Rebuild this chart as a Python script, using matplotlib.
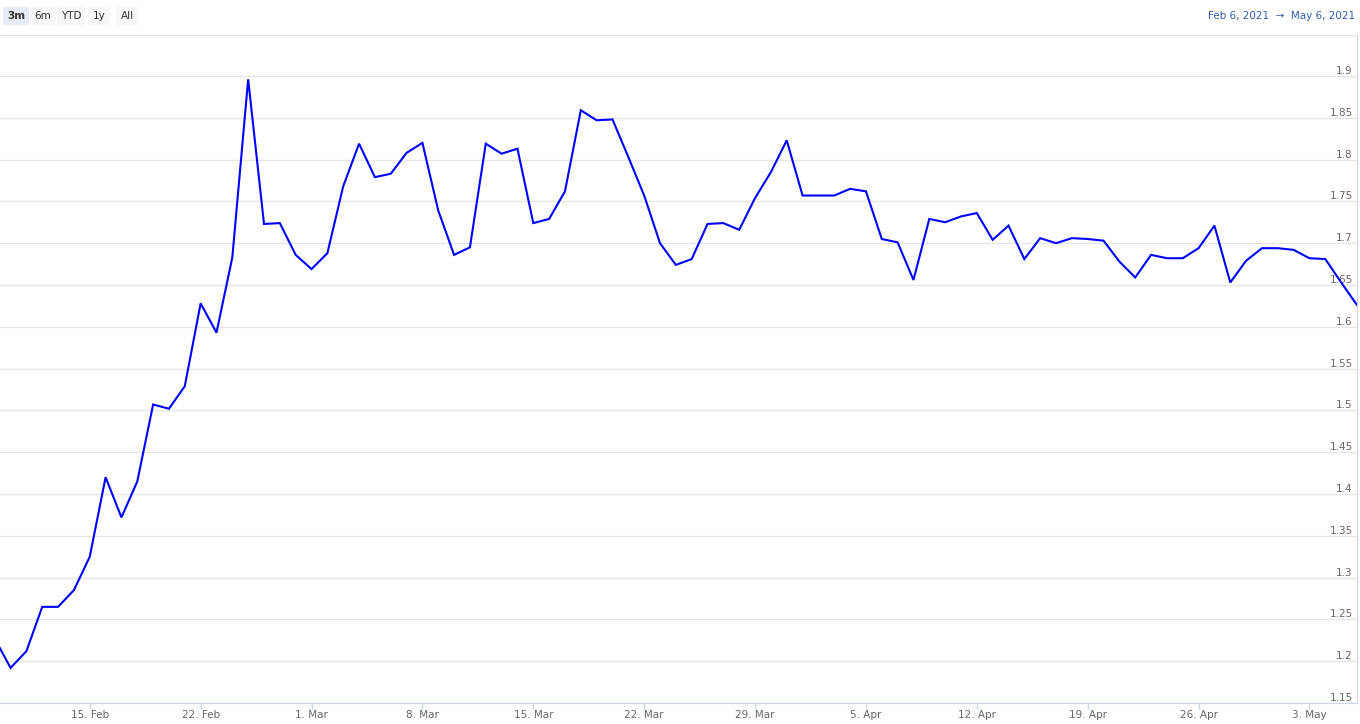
import datetime as dt
import matplotlib
matplotlib.use("Agg")
from matplotlib import pyplot as plt
import matplotlib.dates as mdates
from matplotlib.ticker import FixedLocator, FuncFormatter

# daily values, 9 Feb 2021 .. 6 May 2021
start = dt.date(2021, 2, 9)
valores = [
    1.227, 1.192, 1.212, 1.265, 1.265, 1.285, 1.325, 1.420, 1.372, 1.415,
    1.507, 1.502, 1.529, 1.628, 1.593, 1.683, 1.896, 1.723, 1.724, 1.686,
    1.669, 1.688, 1.768, 1.819, 1.779, 1.783, 1.808, 1.820, 1.739, 1.686,
    1.695, 1.819, 1.807, 1.813, 1.724, 1.729, 1.762, 1.859, 1.847, 1.848,
    1.803, 1.757, 1.700, 1.674, 1.681, 1.723, 1.724, 1.716, 1.754, 1.785,
    1.823, 1.757, 1.757, 1.757, 1.765, 1.762, 1.705, 1.701, 1.656, 1.729,
    1.725, 1.732, 1.736, 1.704, 1.721, 1.681, 1.706, 1.700, 1.706, 1.705,
    1.703, 1.678, 1.659, 1.686, 1.682, 1.682, 1.694, 1.721, 1.653, 1.679,
    1.694, 1.694, 1.692, 1.682, 1.681, 1.653, 1.626,
]
fechas = [start + dt.timedelta(days=i) for i in range(len(valores))]

yticks = [1.15, 1.2, 1.25, 1.3, 1.35, 1.4, 1.45, 1.5, 1.55, 1.6, 1.65,
          1.7, 1.75, 1.8, 1.85, 1.9]
botones = ["3m", "6m", "YTD", "1y", "All"]
rango = "Feb 6, 2021  \u2192  May 6, 2021"

plt.rcParams['font.family'] = ['DejaVu Sans']

fig = plt.figure(figsize=(13.6, 7.24), dpi=100)
W, H = 1360, 724
ax = fig.add_axes([0, (H - 703) / H, 1357 / W, (703 - 35) / H])

ax.plot(fechas, valores, color='#0000ff', linewidth=1.5, solid_joinstyle='miter')

ax.set_xlim(mdates.date2num(dt.datetime(2021, 2, 9, 8)), mdates.date2num(dt.datetime(2021, 5, 6, 0)))
ax.set_ylim(1.15, 1.949)

# y axis: labels inside on the right, above the grid line
ax.yaxis.tick_right()
ax.yaxis.set_major_locator(FixedLocator(yticks))
ax.yaxis.set_major_formatter(FuncFormatter(lambda v, p: f"{v:g}"))
ax.tick_params(axis='y', length=0, pad=-3, labelsize=7.5, labelcolor='#666666')
for lbl in ax.get_yticklabels():
    lbl.set_horizontalalignment('right')
    lbl.set_verticalalignment('bottom')
ax.grid(axis='y', color='#e6e6e6', linewidth=1)
ax.set_axisbelow(True)

# x axis weekly ticks on Mondays
ax.xaxis.set_major_locator(mdates.WeekdayLocator(byweekday=mdates.MO))
ax.xaxis.set_major_formatter(mdates.DateFormatter('%-d. %b'))
ax.tick_params(axis='x', length=4, width=1, color='#ccd6eb', pad=1,
               labelsize=7.5, labelcolor='#666666')

ax.spines['left'].set_visible(False)
ax.spines['top'].set_color('#e6e6e6')
ax.spines['right'].set_color('#ccd6eb')
ax.spines['bottom'].set_color('#ccd6eb')

# range selector buttons
xs = [16, 43, 71, 99, 127]
for i, b in enumerate(botones):
    sel = i == 0
    fig.text(xs[i] / W, 1 - 16 / H, b, ha='center', va='center', fontsize=7.5,
             fontweight='bold' if sel else 'normal', color='#333333',
             bbox=dict(boxstyle='square,pad=0.4', fc='#e6ebf5' if sel else '#f7f7f7', ec='none'))

fig.text(1355 / W, 1 - 16 / H, rango, ha='right', va='center', fontsize=7.5, color='#335cad')

fig.savefig('out.png', dpi=100)
